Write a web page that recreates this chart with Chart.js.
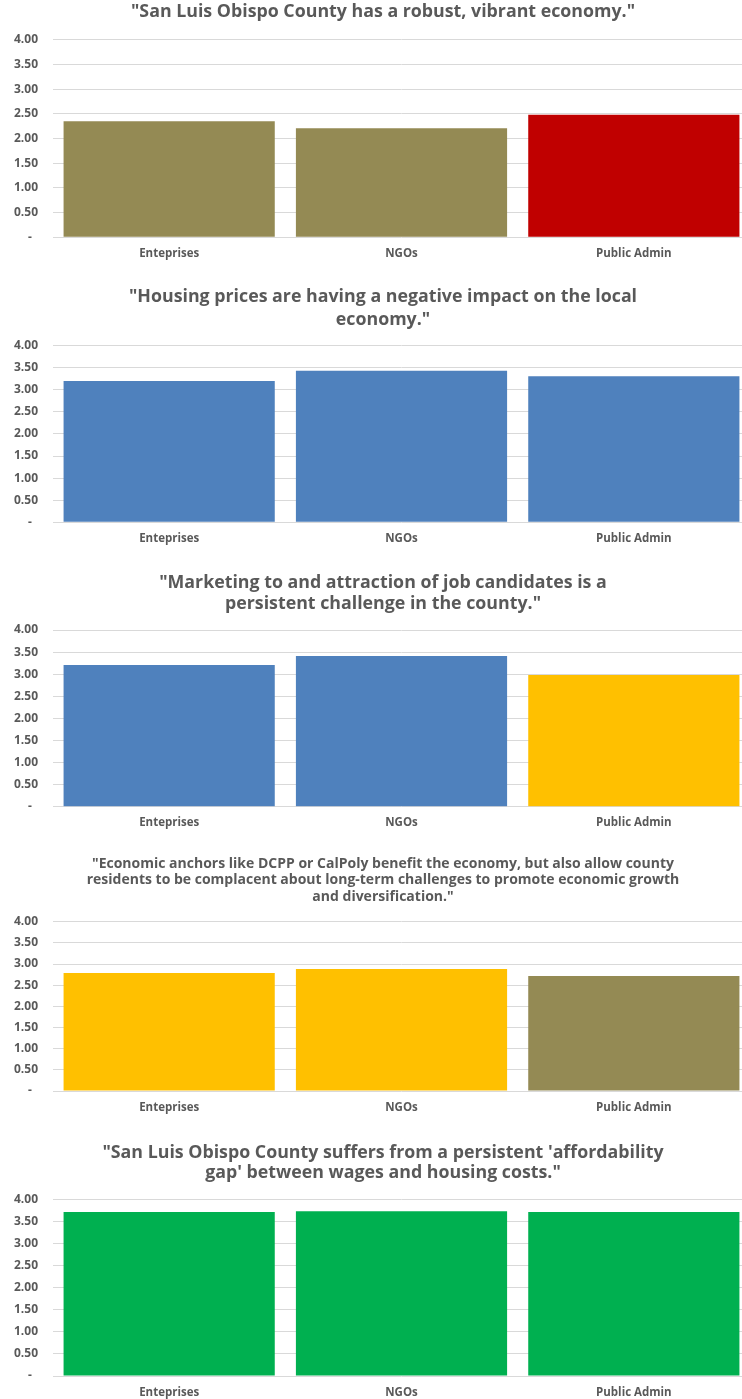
<!DOCTYPE html>
<html>
<head>
<meta charset="utf-8">
<script src="https://cdn.jsdelivr.net/npm/chart.js@4.4.1/dist/chart.umd.min.js"></script>
<style>
  html, body { margin: 0; padding: 0; background: #ffffff; overflow: hidden; width: 742px; height: 1399px; }
  #wrap { position: relative; width: 742px; height: 1399px; overflow: hidden; }
  canvas { position: absolute; left: 0; }
</style>
</head>
<body>
<div id="wrap"></div>
<script>
// Respondent groups shared by every survey statement
const categories = ['Enteprises', 'NGOs', 'Public Admin'];
const yTickValues = [0, 0.5, 1, 1.5, 2, 2.5, 3, 3.5, 4];

// Statement 1
const titleRobust = ['"San Luis Obispo County has a robust, vibrant economy."'];
const valuesRobust = [2.35, 2.21, 2.48];

// Statement 2
const titleHousing = ['"Housing prices are having a negative impact on the local', 'economy."'];
const valuesHousing = [3.20, 3.43, 3.31];

// Statement 3
const titleMarketing = ['"Marketing to and attraction of job candidates is a', 'persistent challenge in the county."'];
const valuesMarketing = [3.21, 3.41, 2.98];

// Statement 4
const titleAnchors = [
  '"Economic anchors like DCPP or CalPoly benefit the economy, but also allow county',
  'residents to be complacent about long-term challenges to promote economic growth',
  'and diversification."'
];
const valuesAnchors = [2.79, 2.88, 2.72];

// Statement 5
const titleGap = ['"San Luis Obispo County suffers from a persistent \'affordability', 'gap\' between wages and housing costs."'];
const valuesGap = [3.71, 3.73, 3.71];

// Bar fills
const OLIVE = '#948A54', RED = '#C00000', BLUE = '#4F81BD', GOLD = '#FFC000', GREEN = '#00B050';
const colorsRobust = [OLIVE, OLIVE, RED];
const colorsHousing = [BLUE, BLUE, BLUE];
const colorsMarketing = [BLUE, BLUE, GOLD];
const colorsAnchors = [GOLD, GOLD, OLIVE];
const colorsGap = [GREEN, GREEN, GREEN];

// Page placement of each panel: canvas box, title line centres, plot band
const panels = [
  { title: titleRobust,    values: valuesRobust,    colors: colorsRobust,    top: 0,    bottom: 270,  titleSize: 17.8, firstLine: 11.5,   lineGap: 22,   plotTop: 39.7,  plotBottom: 237.3 },
  { title: titleHousing,   values: valuesHousing,   colors: colorsHousing,   top: 270,  bottom: 555,  titleSize: 17.8, firstLine: 297,    lineGap: 22.5, plotTop: 345.7, plotBottom: 522.3 },
  { title: titleMarketing, values: valuesMarketing, colors: colorsMarketing, top: 555,  bottom: 840,  titleSize: 17.8, firstLine: 583.3,  lineGap: 20.5, plotTop: 630,   plotBottom: 806.7 },
  { title: titleAnchors,   values: valuesAnchors,   colors: colorsAnchors,   top: 840,  bottom: 1120, titleSize: 14,   firstLine: 864,    lineGap: 16.4, plotTop: 921.7, plotBottom: 1091 },
  { title: titleGap,       values: valuesGap,       colors: colorsGap,       top: 1120, bottom: 1399, titleSize: 17.8, firstLine: 1152.7, lineGap: 20.6, plotTop: 1199.3,plotBottom: 1376 }
];

const CANVAS_W = 766;
const PLOT_LEFT = 53;
const RIGHT_GUTTER = 16;
const TEXT = '#595959';
const GRID = '#D9D9D9';

const wrap = document.getElementById('wrap');

panels.forEach((p) => {
  const h = p.bottom - p.top;
  const canvas = document.createElement('canvas');
  canvas.width = CANVAS_W;
  canvas.height = h;
  canvas.style.width = CANVAS_W + 'px';
  canvas.style.height = h + 'px';
  canvas.style.top = p.top + 'px';
  wrap.appendChild(canvas);

  const lh = p.lineGap;
  const padTop = (p.firstLine - p.top) - lh / 2;
  const titleBlock = padTop + lh * p.title.length;
  const padBottom = (p.plotTop - p.top) - titleBlock;
  const xAxisHeight = p.bottom - p.plotBottom;

  new Chart(canvas, {
    type: 'bar',
    data: {
      labels: categories,
      datasets: [{
        data: p.values,
        backgroundColor: p.colors,
        borderWidth: 0,
        barPercentage: 0.909,
        categoryPercentage: 1
      }]
    },
    options: {
      responsive: false,
      animation: false,
      devicePixelRatio: 1,
      layout: { padding: 0 },
      plugins: {
        legend: { display: false },
        tooltip: { enabled: false },
        title: {
          display: true,
          text: p.title,
          color: TEXT,
          font: { family: "'Open Sans', sans-serif", size: p.titleSize, weight: 'bold', lineHeight: lh / p.titleSize },
          padding: { top: padTop, bottom: padBottom }
        }
      },
      scales: {
        x: {
          grid: { display: false, drawTicks: false },
          border: { display: false },
          ticks: {
            color: TEXT,
            padding: 9.5,
            font: { family: "'Open Sans', sans-serif", size: 11.5, weight: 'bold' }
          },
          afterFit(scale) { scale.height = xAxisHeight; }
        },
        y: {
          min: 0,
          max: 4,
          afterBuildTicks(scale) { scale.ticks = yTickValues.map(v => ({ value: v })); },
          grid: { color: GRID, lineWidth: 1, drawTicks: false },
          border: { display: false },
          ticks: {
            color: TEXT,
            padding: 15,
            font: { family: "'Open Sans', sans-serif", size: 12, weight: 'bold' },
            callback: (v) => (v === 0 ? '-  ' : Number(v).toFixed(2))
          },
          afterFit(scale) { scale.width = PLOT_LEFT; }
        },
        gutter: {
          type: 'linear',
          position: 'right',
          display: true,
          grid: { display: false, drawTicks: false },
          border: { display: false },
          ticks: { display: false },
          afterFit(scale) { scale.width = RIGHT_GUTTER; }
        }
      }
    }
  });
});
</script>
</body>
</html>
